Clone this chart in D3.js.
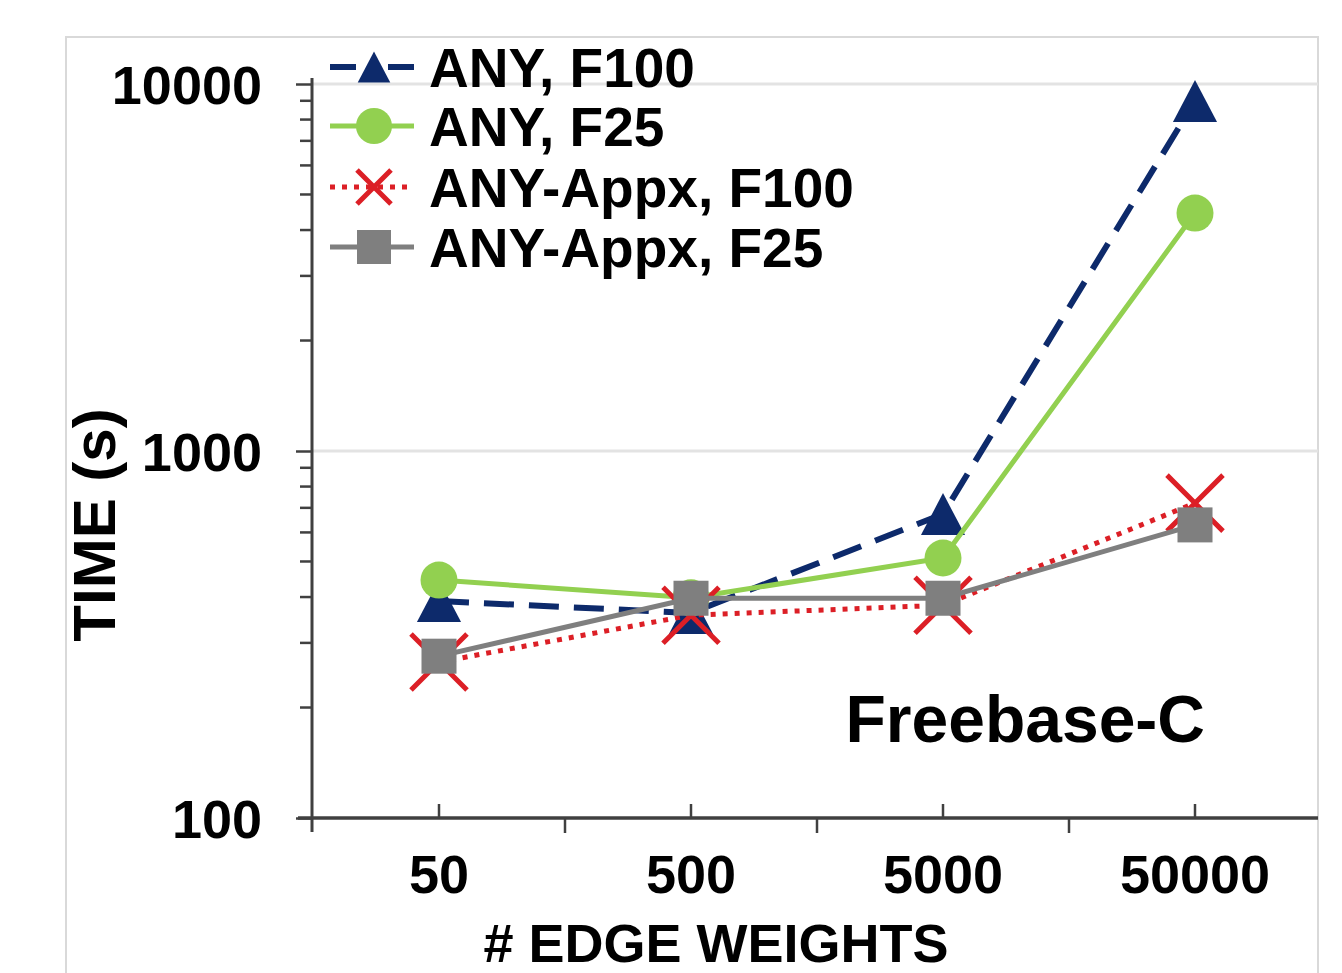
<!DOCTYPE html>
<html>
<head>
<meta charset="utf-8">
<script src="https://cdn.jsdelivr.net/npm/d3@7"></script>
<style>
  html, body { margin: 0; padding: 0; background: #fff; }
  svg { display: block; font-family: "Liberation Sans", Arial, sans-serif; font-weight: bold; }
</style>
</head>
<body>
<svg id="chart" width="1342" height="973"></svg>
<script>
// data
const categories = ['50', '500', '5000', '50000'];
const anyF100 = [390, 362, 673, 8990];
const anyF25 = [445, 398, 511, 4450];
const appxF100 = [266, 357, 380, 721];
const appxF25 = [276, 397, 397, 629];
const yTicks = [100, 1000, 10000];
const seriesNames = ['ANY, F100', 'ANY, F25', 'ANY-Appx, F100', 'ANY-Appx, F25'];

const svg = d3.select('#chart');

// outer frame
svg.append('rect')
  .attr('x', 66).attr('y', 37)
  .attr('width', 1252).attr('height', 1000)
  .attr('fill', '#fff')
  .attr('stroke', '#d9d9d9').attr('stroke-width', 2);

const x = d3.scaleBand().domain(categories).range([313, 1321]);
const y = d3.scaleLog().domain([100, 10000]).range([818, 84]);
const cx = c => x(c) + x.bandwidth() / 2;

// gridlines
svg.append('g')
  .selectAll('line')
  .data(yTicks.slice(1))
  .join('line')
  .attr('x1', 312).attr('x2', 1318)
  .attr('y1', d => y(d)).attr('y2', d => y(d))
  .attr('stroke', '#e3e3e3').attr('stroke-width', 3);

// minor ticks
const minor = [];
for (let dec = 100; dec < 10000; dec *= 10) {
  for (let m = 2; m <= 9; m++) minor.push(dec * m);
}
svg.append('g')
  .selectAll('line')
  .data(minor)
  .join('line')
  .attr('x1', 300).attr('x2', 312)
  .attr('y1', d => y(d)).attr('y2', d => y(d))
  .attr('stroke', '#404040').attr('stroke-width', 2.5);

// y axis
const yAxis = svg.append('g')
  .attr('transform', 'translate(312,0)')
  .call(d3.axisLeft(y).tickValues(yTicks).tickFormat(d3.format('d')).tickSize(16).tickPadding(34));
yAxis.select('.domain').remove();
yAxis.selectAll('.tick line').attr('stroke', '#404040').attr('stroke-width', 2.5);
yAxis.selectAll('.tick text')
  .attr('fill', '#000')
  .style('font-size', '54px')
  .attr('dy', '0.36em');
svg.append('line')
  .attr('x1', 312).attr('x2', 312).attr('y1', 78).attr('y2', 832)
  .attr('stroke', '#404040').attr('stroke-width', 3);

// x axis
svg.append('line')
  .attr('x1', 298).attr('x2', 1318).attr('y1', 818).attr('y2', 818)
  .attr('stroke', '#404040').attr('stroke-width', 3.5);
svg.append('g')
  .selectAll('line')
  .data(categories)
  .join('line')
  .attr('x1', d => cx(d)).attr('x2', d => cx(d))
  .attr('y1', 804).attr('y2', 818)
  .attr('stroke', '#404040').attr('stroke-width', 2.5);
svg.append('g')
  .selectAll('line')
  .data(categories.slice(1))
  .join('line')
  .attr('x1', d => x(d)).attr('x2', d => x(d))
  .attr('y1', 818).attr('y2', 833)
  .attr('stroke', '#404040').attr('stroke-width', 2.5);
svg.append('g')
  .selectAll('text')
  .data(categories)
  .join('text')
  .attr('x', d => cx(d)).attr('y', 893)
  .attr('text-anchor', 'middle')
  .style('font-size', '54px')
  .text(d => d);

// axis titles
svg.append('text')
  .attr('x', 716).attr('y', 962)
  .attr('text-anchor', 'middle')
  .style('font-size', '54px')
  .text('# EDGE WEIGHTS');
svg.append('text')
  .attr('transform', 'translate(115,525) rotate(-90)')
  .attr('text-anchor', 'middle')
  .style('font-size', '60px')
  .text('TIME (s)');

svg.append('text')
  .attr('x', 1205).attr('y', 742)
  .attr('text-anchor', 'end')
  .style('font-size', '66px')
  .text('Freebase-C');

// marker painters
function drawMarker(g, type, color, px, py, s) {
  if (type === 'triangle') {
    const h = s, w = s * 1.05;
    g.append('path')
      .attr('d', `M${px},${py - h / 2}L${px + w / 2},${py + h / 2}L${px - w / 2},${py + h / 2}Z`)
      .attr('fill', color);
  } else if (type === 'circle') {
    g.append('circle').attr('cx', px).attr('cy', py).attr('r', s / 2).attr('fill', color);
  } else if (type === 'square') {
    g.append('rect').attr('x', px - s / 2).attr('y', py - s / 2)
      .attr('width', s).attr('height', s).attr('fill', color);
  } else if (type === 'x') {
    const r = s / 2;
    g.append('path')
      .attr('d', `M${px - r},${py - r}L${px + r},${py + r}M${px - r},${py + r}L${px + r},${py - r}`)
      .attr('stroke', color).attr('stroke-width', 5).attr('fill', 'none');
  }
}

const series = [
  { name: seriesNames[0], values: anyF100, color: '#0d2a6b', dash: '30,15', legendDash: '26,32', width: 6, marker: 'triangle', size: 42, legendSize: 31 },
  { name: seriesNames[1], values: anyF25, color: '#92d050', dash: null, legendDash: null, width: 5, marker: 'circle', size: 37, legendSize: 36 },
  { name: seriesNames[2], values: appxF100, color: '#dc1f26', dash: '5,7', legendDash: '5,7', width: 5, marker: 'x', size: 56, legendSize: 34 },
  { name: seriesNames[3], values: appxF25, color: '#7f7f7f', dash: null, legendDash: null, width: 5, marker: 'square', size: 35, legendSize: 34 }
];

const line = d3.line()
  .x((d, i) => cx(categories[i]))
  .y(d => y(d));

series.forEach(s => {
  const g = svg.append('g');
  g.append('path')
    .attr('d', line(s.values))
    .attr('fill', 'none')
    .attr('stroke', s.color)
    .attr('stroke-width', s.width)
    .attr('stroke-dasharray', s.dash);
  s.values.forEach((v, i) => drawMarker(g, s.marker, s.color, cx(categories[i]), y(v), s.size));
});

// legend
const legendRows = [67, 126, 187, 247];
series.forEach((s, i) => {
  const g = svg.append('g');
  const ly = legendRows[i];
  g.append('line')
    .attr('x1', 330).attr('x2', 414).attr('y1', ly).attr('y2', ly)
    .attr('stroke', s.color)
    .attr('stroke-width', s.width)
    .attr('stroke-dasharray', s.legendDash);
  drawMarker(g, s.marker, s.color, 374, ly, s.legendSize);
  g.append('text')
    .attr('x', 429).attr('y', ly + 20)
    .style('font-size', '55px')
    .text(s.name);
});
</script>
</body>
</html>
